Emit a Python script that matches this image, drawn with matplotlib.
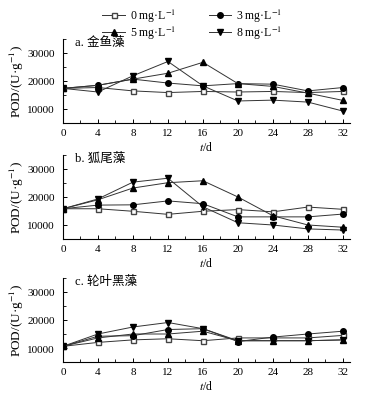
import numpy as np
import matplotlib.pyplot as plt
from matplotlib.ticker import MultipleLocator

plt.rcParams['font.family'] = ['Liberation Serif', 'Noto Sans CJK SC']
plt.rcParams['mathtext.fontset'] = 'stix'

# DATOS
dias = [0, 4, 8, 12, 16, 20, 24, 28, 32]
etiquetas = ['0 mg·L$^{-1}$', '3 mg·L$^{-1}$', '5 mg·L$^{-1}$', '8 mg·L$^{-1}$']
titulos = ['a. 金鱼藻', 'b. 狐尾藻', 'c. 轮叶黑藻']

a_0 = [17300, 17600, 16400, 15800, 16200, 16000, 16200, 15800, 16200]
a_3 = [17300, 18400, 20600, 19200, 18200, 19000, 18800, 16400, 17600]
a_5 = [17300, 18400, 20600, 22700, 26600, 19000, 18000, 15600, 13000]
a_8 = [17300, 16000, 21800, 26900, 18200, 12800, 13100, 12400, 9200]

b_0 = [15800, 15800, 14900, 13800, 14900, 15500, 14700, 16400, 15600]
b_3 = [15800, 17100, 17200, 18600, 17600, 12900, 12900, 12900, 13900]
b_5 = [15800, 19000, 23200, 25100, 25800, 20000, 13300, 10000, 9200]
b_8 = [15800, 19300, 25300, 26700, 16500, 10800, 10000, 8600, 8200]

c_0 = [10600, 12000, 12900, 13300, 12600, 13600, 13600, 13600, 14500]
c_3 = [10600, 14200, 14400, 16600, 16900, 12300, 13900, 15000, 16000]
c_5 = [10600, 13600, 15000, 15000, 16000, 12600, 12600, 12600, 12900]
c_8 = [10600, 15000, 17500, 19100, 16900, 12600, 12600, 12600, 12900]

paneles = [[a_0, a_3, a_5, a_8], [b_0, b_3, b_5, b_8], [c_0, c_3, c_5, c_8]]

# ESTILOS
marcas = [dict(marker='s', mfc='white', mec='#444444', ms=3.6),
          dict(marker='o', mfc='black', mec='black', ms=4.0),
          dict(marker='^', mfc='black', mec='black', ms=4.2),
          dict(marker='v', mfc='black', mec='black', ms=4.2)]

fs = 8
fig = plt.figure(figsize=(3.66, 4.02), dpi=100)
posiciones = [0.692, 0.403, 0.097]
lineas = []
for k in range(3):
    ax = fig.add_axes([0.172, posiciones[k], 0.784, 0.209])
    for s in range(4):
        ln, = ax.plot(dias, paneles[k][s], color='#333333', lw=0.7,
                      label=etiquetas[s], **marcas[s])
        if k == 0:
            lineas.append(ln)
    ax.set_xlim(0, 32.8)
    ax.set_ylim(5000, 35000)
    ax.xaxis.set_major_locator(MultipleLocator(4))
    ax.xaxis.set_minor_locator(MultipleLocator(2))
    ax.set_yticks([10000, 20000, 30000])
    ax.yaxis.set_minor_locator(MultipleLocator(5000))
    ax.spines['top'].set_visible(False)
    ax.spines['right'].set_visible(False)
    for sp in ['left', 'bottom']:
        ax.spines[sp].set_linewidth(0.8)
    ax.tick_params(direction='in', labelsize=fs, length=3, width=0.7)
    ax.tick_params(axis='y', pad=6)
    ax.tick_params(axis='x', pad=3.5)
    ax.tick_params(which='minor', direction='in', length=2, width=0.6)
    ax.set_ylabel('POD/(U·g$^{-1}$)', fontsize=9.5)
    ax.yaxis.set_label_coords(-0.13, 0.5)
    ax.set_xlabel('$t$/d', fontsize=8.5)
    ax.xaxis.set_label_coords(0.5, -0.2)
    ax.text(0.042, 0.965, titulos[k], transform=ax.transAxes,
            fontsize=9, va='center', ha='left')

orden = [lineas[0], lineas[2], lineas[1], lineas[3]]
fig.legend(orden, [l.get_label() for l in orden], ncol=2, frameon=False,
           fontsize=8.5, loc='upper center', bbox_to_anchor=(0.525, 1.008),
           handlelength=1.9, columnspacing=2.8, labelspacing=0.0,
           handletextpad=0.4)

fig.savefig('out.png', dpi=100)
